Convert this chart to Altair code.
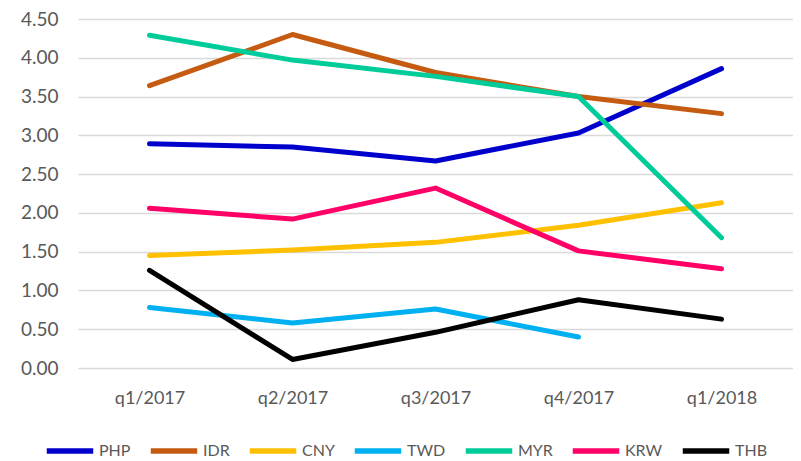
import altair as alt
import pandas as pd

quarters = ["q1/2017", "q2/2017", "q3/2017", "q4/2017", "q1/2018"]
currencies = ["PHP", "IDR", "CNY", "TWD", "MYR", "KRW", "THB"]
colors = ["#0000CC", "#C55A11", "#FFC000", "#00B0F0", "#00CC99", "#FF0066", "#000000"]

PHP = [2.89, 2.85, 2.67, 3.03, 3.86]
IDR = [3.64, 4.30, 3.81, 3.50, 3.28]
CNY = [1.45, 1.52, 1.62, 1.84, 2.13]
TWD = [0.78, 0.58, 0.76, 0.40, None]
MYR = [4.29, 3.97, 3.76, 3.50, 1.68]
KRW = [2.06, 1.92, 2.32, 1.51, 1.28]
THB = [1.26, 0.11, 0.46, 0.88, 0.63]

series = {"PHP": PHP, "IDR": IDR, "CNY": CNY, "TWD": TWD, "MYR": MYR, "KRW": KRW, "THB": THB}
y_ticks = [0, 0.5, 1.0, 1.5, 2.0, 2.5, 3.0, 3.5, 4.0, 4.5]

rows = []
for i, cur in enumerate(currencies):
    for q, v in zip(quarters, series[cur]):
        if v is not None:
            rows.append({"quarter": q, "currency": cur, "value": v, "order": i})
df = pd.DataFrame(rows)

FONT = "Lato"
GRAY = "#595959"

chart = alt.Chart(df).mark_line(strokeWidth=5, strokeCap="round", strokeJoin="round").encode(
    x=alt.X("quarter:N", sort=quarters, title=None,
            scale=alt.Scale(type="point", padding=0.5),
            axis=alt.Axis(labelAngle=0, ticks=False, domain=False, grid=False,
                          labelPadding=21, labelFontSize=18, labelFont=FONT, labelColor=GRAY)),
    y=alt.Y("value:Q", title=None,
            scale=alt.Scale(domain=[0, 4.5], nice=False),
            axis=alt.Axis(values=y_ticks, format=".2f", ticks=False, domain=False,
                          labelPadding=20, labelFontSize=19, labelFont=FONT, labelColor=GRAY,
                          gridColor="#D9D9D9", gridWidth=1.3)),
    color=alt.Color("currency:N", sort=currencies, title=None,
                    scale=alt.Scale(domain=currencies, range=colors),
                    legend=alt.Legend(orient="none", direction="horizontal",
                                      legendX=-34, legendY=406, padding=0,
                                      symbolType="stroke", symbolSize=2160, symbolStrokeWidth=5.5,
                                      labelFontSize=16, labelFont=FONT, labelColor=GRAY,
                                      labelOffset=3, columnPadding=8)),
    detail="currency:N",
    order="order:Q",
).properties(
    width=715,
    height=349,
    padding={"left": 70, "top": 11, "right": 0, "bottom": 93},
    autosize=alt.AutoSizeParams(type="none"),
).configure_view(stroke=None)

chart.save("out.html", embed_options={"renderer": "svg", "actions": False})
